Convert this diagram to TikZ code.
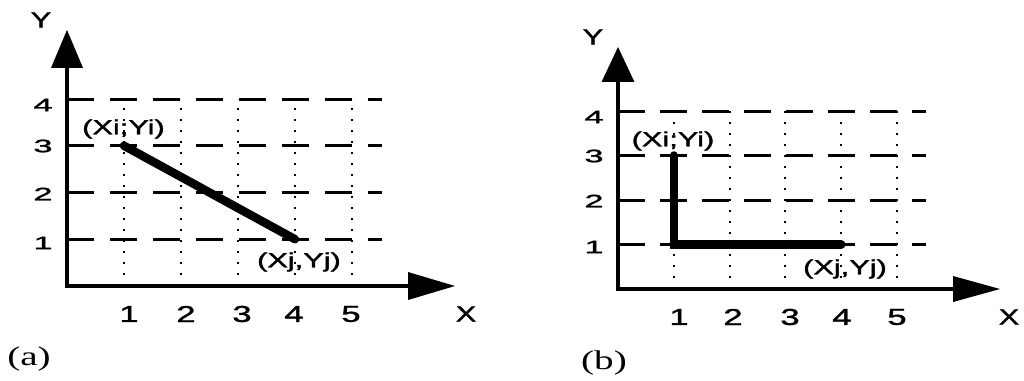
\documentclass[tikz,border=0pt]{standalone}
\usepackage{fontspec}
\setmainfont{Liberation Sans}[FakeBold=1.4]
\newfontfamily\capfont{Liberation Serif}
\usepackage{graphicx}
\usetikzlibrary{arrows.meta}
\newcommand\hs[2]{\scalebox{#1}[1]{#2}}
\tikzset{
  axisl/.style={line width=3.2pt, line join=miter},
  gdash/.style={line width=3pt, dash pattern=on 27pt off 16pt},
  gdashb/.style={line width=3pt, dash pattern=on 27pt off 15pt},
  gdot/.style={line width=2pt, line cap=butt, dash pattern=on 2pt off 9pt},
  seg/.style={line width=8.5pt, line cap=round, line join=miter},
  ticky/.style={inner sep=0pt, font=\fontsize{18}{18}\selectfont},
  tickx/.style={inner sep=0pt, font=\fontsize{23}{23}\selectfont},
  axlab/.style={inner sep=0pt, font=\fontsize{22}{22}\selectfont},
  ptlab/.style={inner sep=0pt, font=\fontsize{20.5}{20.5}\selectfont},
  caplab/.style={inner sep=0pt, font=\fontsize{27}{27}\capfont},
}
\begin{document}
\begin{tikzpicture}[x=1pt, y=-1pt]
\useasboundingbox[fill=white] (0,0) rectangle (1024,380);

% ---------- panel (a) ----------
\begin{scope}[shift={(67,286)}, x=57pt, y=46.75pt]
  \coordinate (a0) at (0,0);
  \coordinate (aY) at (0,5.48);
  \coordinate (aX) at (6.81,0);
  \foreach \i in {1,...,4} \draw[gdash] (0,\i) -- (5.53,\i);
  \foreach \i in {1,...,5} \draw[gdot] (\i,0) -- (\i,4);
  \draw[axisl, {Triangle[length=38pt,width=31pt]}-{Triangle[length=47pt,width=27pt]}] (aY) -- (a0) -- (aX);
  \coordinate (ai) at (1,3);
  \coordinate (aj) at (4,1);
  \draw[seg] (ai) -- (aj);
\end{scope}
\node[axlab] (aYl) at (41,20) {\hs{1.4}{Y}};
\node[ticky] (ay4) at (43,105) {\hs{1.9}{4}};
\node[ticky] (ay3) at (43,146) {\hs{1.9}{3}};
\node[ticky] (ay2) at (43,194) {\hs{1.9}{2}};
\node[ticky] (ay1) at (43,243) {\hs{1.9}{1}};
\node[tickx] (ax1) at (129,314) {\hs{1.5}{1}};
\node[tickx] (ax2) at (186,314) {\hs{1.5}{2}};
\node[tickx] (ax3) at (242,314) {\hs{1.5}{3}};
\node[tickx] (ax4) at (294,314) {\hs{1.5}{4}};
\node[tickx] (ax5) at (351,314) {\hs{1.5}{5}};
\node[axlab] (aXl) at (466,314) {\hs{1.4}{X}};
\node[ptlab] (aPi) at (123.5,129) {\hs{1.5}{(Xi;Yi)}};
\node[ptlab] (aPj) at (299,262) {\hs{1.5}{(Xj,Yj)}};
\node[caplab] (acap) at (29,359) {\hs{1.45}{(a)}};

% ---------- panel (b) ----------
\begin{scope}[shift={(618,289)}, x=55.8pt, y=44.5pt]
  \coordinate (b0) at (0,0);
  \coordinate (bY) at (0,5.44);
  \coordinate (bX) at (6.85,0);
  \foreach \i in {1,...,4} \draw[gdashb] (0,\i) -- (5.52,\i);
  \foreach \i in {1,...,5} \draw[gdot] (\i,0) -- (\i,4);
  \draw[axisl, {Triangle[length=35pt,width=32pt]}-{Triangle[length=47pt,width=25pt]}] (bY) -- (b0) -- (bX);
  \coordinate (bi) at (1,3);
  \coordinate (bc) at (1,1);
  \coordinate (bj) at (4,1);
  \draw[seg] (bi) -- (bc) -- (bj);
\end{scope}
\node[axlab] (bYl) at (593,37) {\hs{1.4}{Y}};
\node[ticky] (by4) at (594,117) {\hs{1.9}{4}};
\node[ticky] (by3) at (594,156) {\hs{1.9}{3}};
\node[ticky] (by2) at (594,201) {\hs{1.9}{2}};
\node[ticky] (by1) at (594,247) {\hs{1.9}{1}};
\node[tickx] (bx1) at (679,317) {\hs{1.5}{1}};
\node[tickx] (bx2) at (733,317) {\hs{1.5}{2}};
\node[tickx] (bx3) at (790,317) {\hs{1.5}{3}};
\node[tickx] (bx4) at (842,317) {\hs{1.5}{4}};
\node[tickx] (bx5) at (897,317) {\hs{1.5}{5}};
\node[axlab] (bXl) at (1009,317) {\hs{1.4}{X}};
\node[ptlab] (bPi) at (673,141) {\hs{1.5}{(Xi;Yi)}};
\node[ptlab] (bPj) at (845,269) {\hs{1.5}{(Xj,Yj)}};
\node[caplab] (bcap) at (604,363) {\hs{1.45}{(b)}};
\end{tikzpicture}
\end{document}
